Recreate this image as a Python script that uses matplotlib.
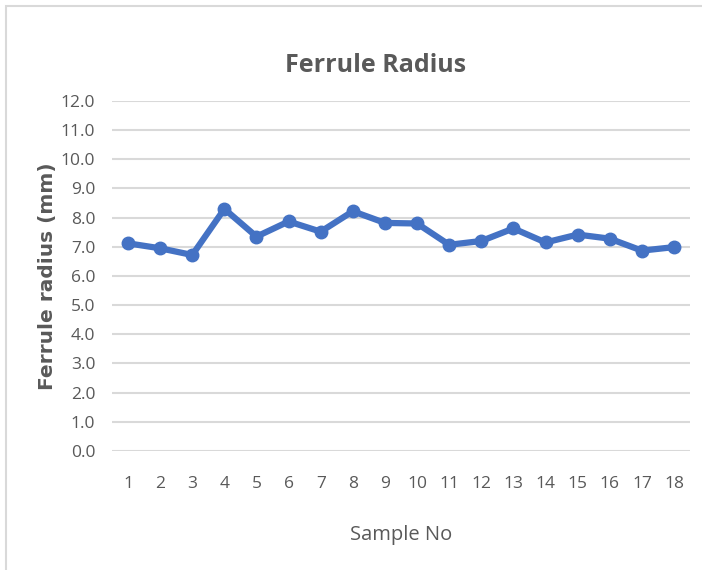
import matplotlib.pyplot as plt
from matplotlib.patches import Rectangle
import numpy as np

samples = [str(i) for i in range(1, 19)]
radius = [7.12, 6.95, 6.72, 8.3, 7.35, 7.87, 7.52, 8.22, 7.82,
          7.8, 7.07, 7.2, 7.63, 7.15, 7.42, 7.28, 6.87, 6.99]

grey = '#595959'
blue = '#4472C4'

fig = plt.figure(figsize=(7.02, 5.7), dpi=100)
fig.patches.append(Rectangle((0.008, -0.01), 1.0, 1.0, transform=fig.transFigure,
                             fill=False, edgecolor='#d9d9d9', linewidth=1.5))
ax = fig.add_axes([0.1595, 0.2088, 0.8235, 0.614])

x = np.arange(len(samples))
ax.plot(x, radius, color=blue, linewidth=4.5, marker='o', markersize=9,
        solid_capstyle='round', zorder=3)

ax.set_xlim(-0.5, len(samples) - 0.5)
ax.set_ylim(0, 12)
ax.set_yticks(np.arange(0, 12.1, 1.0))
ax.set_yticklabels([f'{v:.1f}' for v in np.arange(0, 12.1, 1.0)])
ax.set_xticks(x)
ax.set_xticklabels(samples)
ax.yaxis.grid(True, color='#d9d9d9', linewidth=1.5)
ax.set_axisbelow(True)
for s in ax.spines.values():
    s.set_visible(False)
ax.tick_params(length=0, labelcolor=grey, labelsize=12.5)
ax.tick_params(axis='y', pad=12)
ax.tick_params(axis='x', pad=18)
for lab in ax.get_xticklabels() + ax.get_yticklabels():
    lab.set_family('Open Sans')

ax.set_xlabel('Sample No', fontsize=14.5, color=grey, family='Open Sans', labelpad=24)
ax.set_ylabel('Ferrule radius (mm)', fontsize=14.5, color=grey, fontweight='bold',
              family='DejaVu Sans', labelpad=3)
fig.text(0.535, 0.885, 'Ferrule Radius', ha='center', va='center', fontsize=18,
         color=grey, fontweight='bold', family='Open Sans')

fig.savefig('out.png', dpi=100)
